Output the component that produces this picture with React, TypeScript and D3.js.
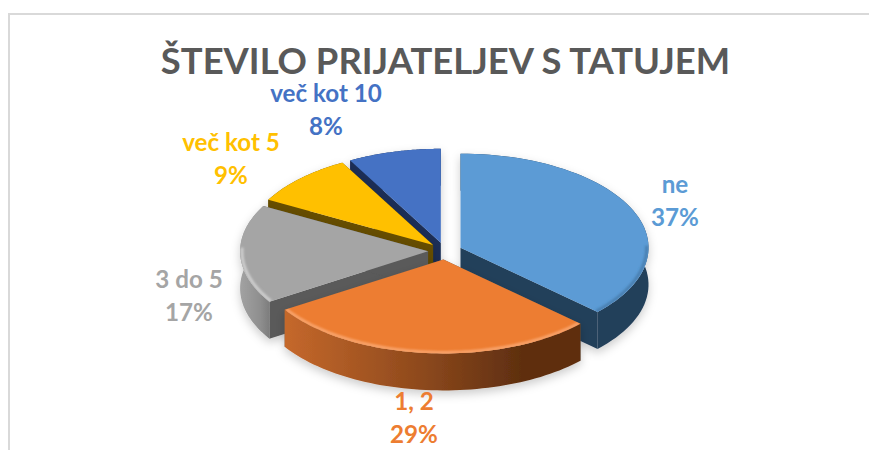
import React from "react";
import * as d3 from "d3";

const categories = ["ne", "1, 2", "3 do 5", "več kot 5", "več kot 10"];
const percents = [37, 29, 17, 9, 8];
const titleText = "ŠTEVILO PRIJATELJEV S TATUJEM";

const W = 869, H = 450;
const CX = 445, CY = 251, RX = 188, RY = 94, EXPLODE = 0.09, DEPTH = 37;
const topColors = ["#5b9bd5", "#ed7d31", "#a5a5a5", "#ffc000", "#4472c4"];
const wallColors = ["#243f5a", "#5a5a5a", "#5a5a5a", "#664d00", "#1b2e57"];
const bevelColors = ["#4a7fb0", "#f9a56e", "#cfcfcf", "#ffc000", "#4472c4"];
const labelCentres: [number, number][] = [[675, 202], [414, 419], [189, 297], [231, 160], [326, 110.5]];
const drawOrder = [4, 3, 2, 0, 1];

const pie = d3.pie<number>().sort(null).value(d => d);
const arcs = pie(percents);

function project(u: number, v: number, drop = 0): [number, number] {
  return [CX + RX * u, CY - RY * v + drop];
}

function App() {
  const line = d3.line();
  const slices = arcs.map((a, i) => {
    const mid = (a.startAngle + a.endAngle) / 2;
    const ou = EXPLODE * Math.sin(mid), ov = EXPLODE * Math.cos(mid);
    const at = (t: number, r: number, drop = 0) =>
      project(ou + r * Math.sin(t), ov + r * Math.cos(t), drop);
    const ts = d3.range(0, 61).map(k => a.startAngle + (a.endAngle - a.startAngle) * k / 60);
    const rim = ts.map(t => at(t, 1));
    const rimLow = ts.map(t => at(t, 1, DEPTH));
    const apex = at(0, 0), apexLow = at(0, 0, DEPTH);
    const face = line([apex, ...rim])! + "Z";
    const outer = line([...rim, ...rimLow.slice().reverse()])! + "Z";
    const wallA = line([apex, rim[0], rimLow[0], apexLow])! + "Z";
    const wallB = line([apex, rim[60], rimLow[60], apexLow])! + "Z";
    const bevel = line(ts.filter(t => Math.cos(t) < 0.05).map(t => at(t, 0.99))) ?? "";
    return { i, face, outer, wallA, wallB, bevel };
  });

  return (
    <svg width={W} height={H} viewBox={`0 0 ${W} ${H}`}
      style={{ position: "absolute", left: 0, top: 0, background: "#fff" }}
      fontFamily="Lato, sans-serif" fontWeight={700}>
      <defs>
        <filter id="soft" x="-20%" y="-20%" width="140%" height="150%">
          <feDropShadow dx="0" dy="4" stdDeviation="5" floodColor="#000" floodOpacity="0.2" />
        </filter>
        <filter id="blur1"><feGaussianBlur stdDeviation="1" /></filter>
        <linearGradient id="side1" x1="0" x2="1" y1="0" y2="0">
          <stop offset="0" stopColor="#c5682b" />
          <stop offset="0.45" stopColor="#8f4a1d" />
          <stop offset="0.8" stopColor="#5f2f10" />
          <stop offset="1" stopColor="#5f2f10" />
        </linearGradient>
        <linearGradient id="side2" x1="0" x2="1" y1="0" y2="0">
          <stop offset="0" stopColor="#a2a2a2" />
          <stop offset="0.7" stopColor="#8e8e8e" />
          <stop offset="1" stopColor="#7d7d7d" />
        </linearGradient>
        {slices.map(s => <clipPath id={`clip${s.i}`} key={s.i}><path d={s.face} /></clipPath>)}
      </defs>
      <path d={`M9 ${H}V14H${W}`} fill="none" stroke="#d9d9d9" strokeWidth={2} />
      <text x={445.5} y={74} textAnchor="middle" fontSize={36.4} fill="#595959">{titleText}</text>
      {drawOrder.map(i => {
        const s = slices[i];
        const outerFill = i === 1 ? "url(#side1)" : i === 2 ? "url(#side2)" : wallColors[i];
        return (
          <g key={i} filter="url(#soft)">
            <path d={s.wallA} fill={wallColors[i]} />
            <path d={s.wallB} fill={wallColors[i]} />
            <path d={s.outer} fill={outerFill} />
            <path d={s.face} fill={topColors[i]} />
            <g clipPath={`url(#clip${i})`}>
              <path d={s.bevel} fill="none" strokeWidth={3} filter="url(#blur1)" stroke={bevelColors[i]} />
            </g>
          </g>
        );
      })}
      {categories.map((c, i) => (
        <text key={c} textAnchor="middle" fontSize={24.2} fill={topColors[i]}>
          <tspan x={labelCentres[i][0]} y={labelCentres[i][1] - 9}>{c}</tspan>
          <tspan x={labelCentres[i][0]} y={labelCentres[i][1] + 24}>{percents[i]}%</tspan>
        </text>
      ))}
    </svg>
  );
}

export default App;
